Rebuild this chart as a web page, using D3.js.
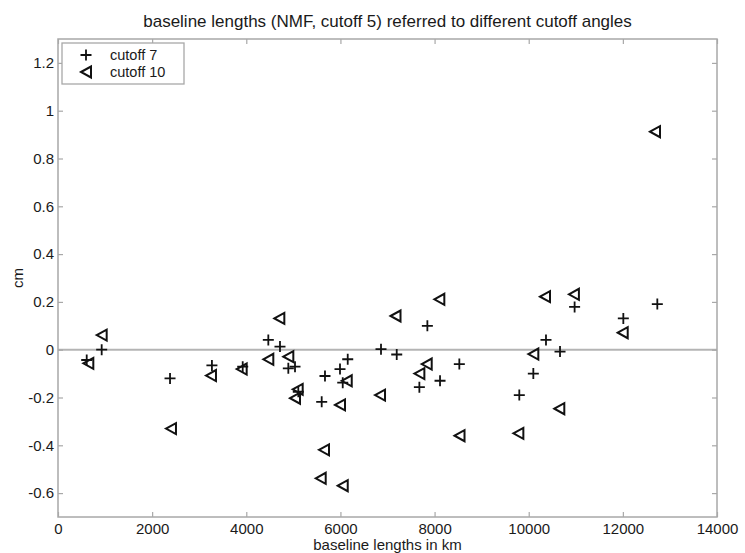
<!DOCTYPE html>
<html><head><meta charset="utf-8">
<script src="https://cdn.jsdelivr.net/npm/d3@7"></script>
<style>body{margin:0;background:#fff}svg{display:block}text{font-family:"Liberation Sans",Arial,sans-serif;fill:#1a1a1a}</style>
</head><body><svg id="c" width="745" height="553"></svg>
<script>
const title = "baseline lengths (NMF, cutoff 5) referred to different cutoff angles";
const xLabel = "baseline lengths in km";
const yLabel = "cm";
const xTicks = [0,2000,4000,6000,8000,10000,12000,14000];
const yTicks = [-0.6,-0.4,-0.2,0,0.2,0.4,0.6,0.8,1,1.2];
const yTickLabels = ["-0.6","-0.4","-0.2","0","0.2","0.4","0.6","0.8","1","1.2"];
const seriesNames = ["cutoff 7","cutoff 10"];
const cut7X = [610,928,2380,3270,3924,4468,4716,4893,5035,5105,5602,5672,5991,6049,6155,6862,7196,7677,7847,8116,8526,9800,10098,10367,10665,10975,12010,12732];
const cut7Y = [-0.043,0.0,-0.12,-0.066,-0.071,0.041,0.013,-0.078,-0.071,-0.176,-0.218,-0.110,-0.081,-0.138,-0.040,0.002,-0.02,-0.157,0.100,-0.130,-0.060,-0.19,-0.10,0.041,-0.008,0.179,0.131,0.191];
const cut10X = [644,928,2400,3250,3902,4468,4702,4893,5035,5092,5581,5651,5991,6049,6134,6841,7170,7677,7833,8101,8530,9780,10098,10346,10650,10960,11997,12683];
const cut10Y = [-0.057,0.061,-0.33,-0.108,-0.081,-0.040,0.131,-0.029,-0.203,-0.166,-0.538,-0.419,-0.231,-0.569,-0.130,-0.19,0.141,-0.10,-0.060,0.211,-0.36,-0.35,-0.018,0.222,-0.247,0.232,0.071,0.912];

const svg = d3.select("#c");
const L=58,R=717,T=39,B=517;
const x = d3.scaleLinear().domain([0,14000]).range([L,R]);
const y = d3.scaleLinear().domain([-0.7,1.3]).range([B,T]);
const grey="#a8a8a8";
const FONT='"Liberation Sans",Arial,sans-serif';

// zero line
svg.append("line").attr("x1",L).attr("x2",R).attr("y1",y(0)).attr("y2",y(0)).attr("stroke","#b4b4b4").attr("stroke-width",2);

// axes
const ax = (g,axis)=>{g.call(axis);g.select(".domain").remove();g.selectAll(".tick line").attr("stroke",grey).attr("stroke-width",1.2);g.selectAll(".tick text").attr("font-size",15).attr("fill","#1a1a1a").attr("font-family",FONT);};
svg.append("g").attr("transform",`translate(0,${B})`).call(g=>ax(g,d3.axisBottom(x).tickValues(xTicks).tickFormat(d3.format("d")).tickSizeInner(-5).tickPadding(6)));
svg.append("g").attr("transform",`translate(0,${T})`).call(g=>ax(g,d3.axisTop(x).tickValues(xTicks).tickFormat("").tickSizeInner(-5)));
svg.append("g").attr("transform",`translate(${L},0)`).call(g=>ax(g,d3.axisLeft(y).tickValues(yTicks).tickFormat((d,i)=>yTickLabels[i]).tickSizeInner(-5).tickPadding(4)));
svg.append("g").attr("transform",`translate(${R},0)`).call(g=>ax(g,d3.axisRight(y).tickValues(yTicks).tickFormat("").tickSizeInner(-5)));
svg.append("rect").attr("x",L).attr("y",T).attr("width",R-L).attr("height",B-T).attr("fill","none").attr("stroke",grey).attr("stroke-width",1.5);

// markers
const plusPath = s=>`M${-s},0H${s}M0,${-s}V${s}`;
const triPath = "M-5,0L5,-5.5L5,5.5Z";
const d7 = cut7X.map((v,i)=>[v,cut7Y[i]]);
const d10 = cut10X.map((v,i)=>[v,cut10Y[i]]);
svg.append("g").selectAll("path").data(d10).join("path")
  .attr("transform",d=>`translate(${x(d[0])},${y(d[1])})`).attr("d",triPath)
  .attr("fill","none").attr("stroke","#111").attr("stroke-width",2).attr("stroke-linejoin","miter");
svg.append("g").selectAll("path").data(d7).join("path")
  .attr("transform",d=>`translate(${x(d[0])},${y(d[1])})`).attr("d",plusPath(5.5))
  .attr("fill","none").attr("stroke","#111").attr("stroke-width",1.8);

// legend
const lg = svg.append("g");
lg.append("rect").attr("x",62).attr("y",43).attr("width",122).attr("height",41).attr("fill","#fff").attr("stroke",grey).attr("stroke-width",1.3);
lg.append("path").attr("transform","translate(86,55)").attr("d",plusPath(5.5)).attr("stroke","#111").attr("stroke-width",1.8);
lg.append("path").attr("transform","translate(86,72)").attr("d",triPath).attr("fill","none").attr("stroke","#111").attr("stroke-width",2);
lg.selectAll("text.l").data(seriesNames).join("text").attr("class","l").attr("x",110).attr("y",(d,i)=>60+i*17).attr("font-size",14.5).text(d=>d);

// labels
svg.append("text").attr("x",(L+R)/2).attr("y",27).attr("text-anchor","middle").attr("font-size",17).text(title);
svg.append("text").attr("x",(L+R)/2).attr("y",550).attr("text-anchor","middle").attr("font-size",15).text(xLabel);
svg.append("text").attr("transform",`translate(23,${(T+B)/2}) rotate(-90)`).attr("text-anchor","middle").attr("font-size",15).text(yLabel);
</script></body></html>
